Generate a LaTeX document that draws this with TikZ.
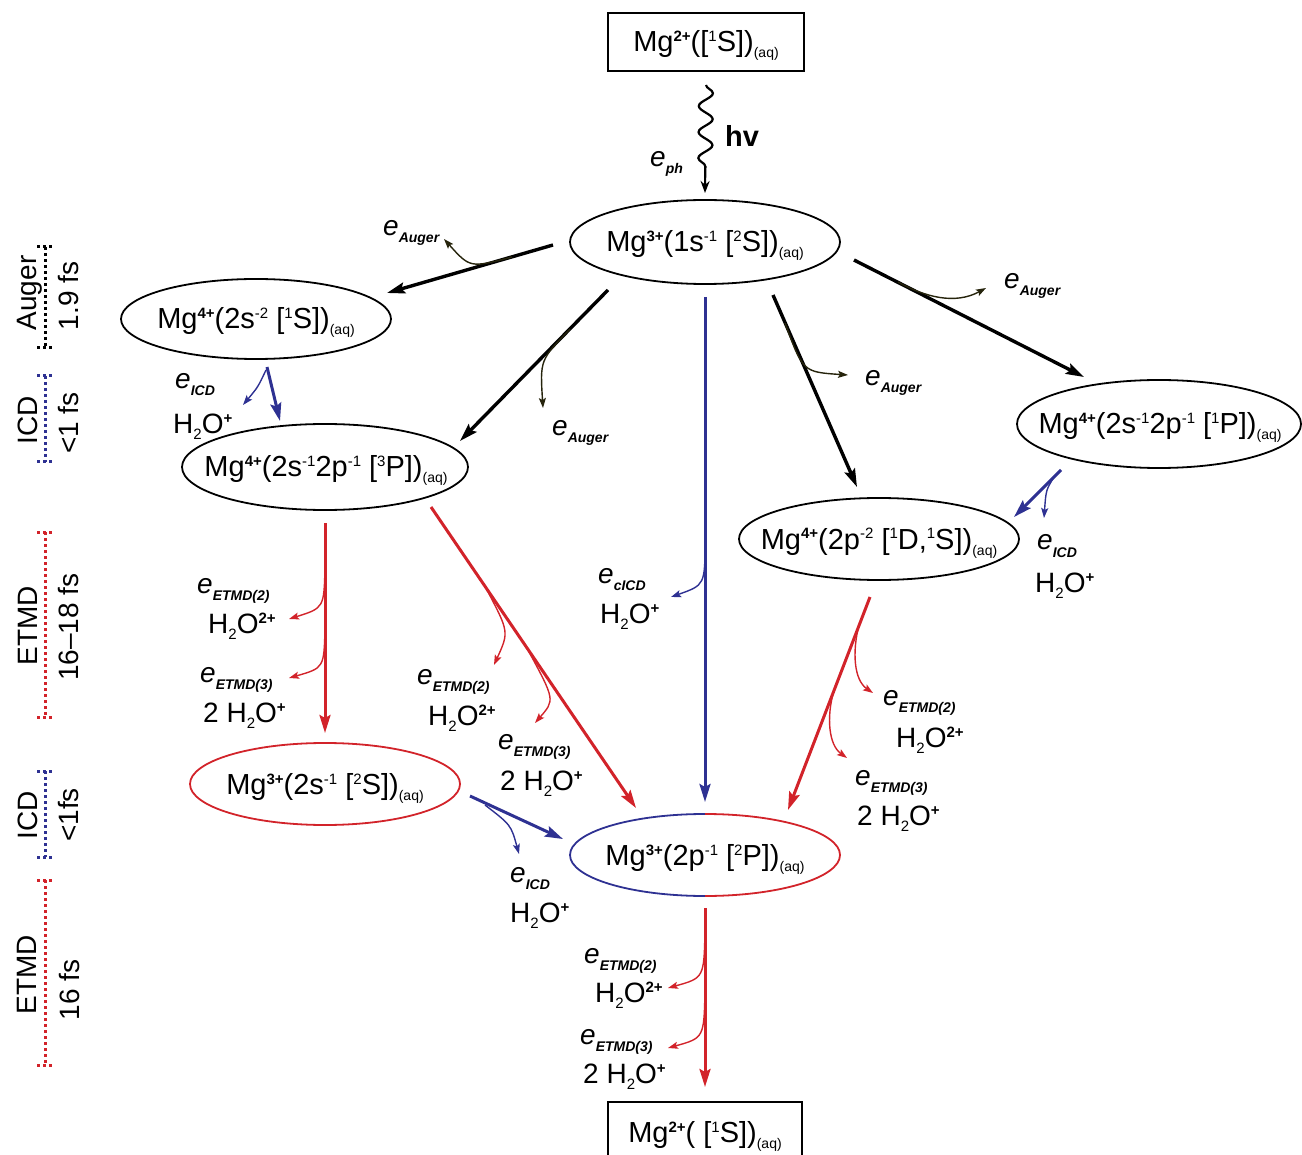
\documentclass[tikz,border=0pt]{standalone}
\usepackage{fontspec}
\setmainfont{Liberation Sans}
\usetikzlibrary{arrows.meta,shapes.geometric,decorations.pathmorphing}
\definecolor{myblue}{RGB}{46,49,146}
\definecolor{myred}{RGB}{210,35,42}
\definecolor{myolive}{RGB}{38,36,12}
\newcommand{\mychg}[1]{\raisebox{10pt}{\fontsize{15}{15}\selectfont\bfseries #1}}
\newcommand{\mysup}[1]{\raisebox{10pt}{\fontsize{15}{15}\selectfont #1}}
\newcommand{\myaq}{\raisebox{-6pt}{\fontsize{14}{14}\selectfont (aq)}}
\newcommand{\mye}[1]{{\itshape e}\raisebox{-7pt}{\fontsize{14}{14}\selectfont\bfseries\itshape #1}}
\newcommand{\myhtwo}{H\raisebox{-6pt}{\fontsize{15}{15}\selectfont 2}O}
\begin{document}
\begin{tikzpicture}[x=1pt,y=-1pt,
  state/.style={ellipse, draw, line width=1.8pt, inner sep=0pt, outer sep=0pt},
  stxt/.style={font=\fontsize{29}{32}\selectfont, inner sep=0pt, anchor=base},
  lbl/.style={font=\fontsize{28}{30}\selectfont, inner sep=0pt, anchor=base west},
  side/.style={font=\fontsize{28}{30}\selectfont, inner sep=0pt, anchor=base, rotate=90},
  bigarrow/.style={line width=3.4pt, -{Stealth[length=18pt,width=11pt,inset=3pt]}},
  thinarrow/.style={line width=1.4pt, -{Stealth[length=10pt,width=7pt,inset=2pt]}},
  bar/.style={line width=3pt, dash pattern=on 3pt off 3pt},
  boxnode/.style={draw, line width=2.4pt, inner sep=0pt, outer sep=0pt},
]
\useasboundingbox (0,0) rectangle (1302,1155);

% ---------- states ----------
\node[boxnode, minimum width=196pt, minimum height=58pt] (top) at (706,42) {};
\node[stxt] (topt) at (706,52) {Mg\mychg{2+}([\mysup{1}S])\myaq};

\node[state, minimum width=270pt, minimum height=84pt] (A) at (705,242) {};
\node[stxt] (At) at (705,252) {Mg\mychg{3+}(1s\mysup{-1} [\mysup{2}S])\myaq};

\node[state, minimum width=270pt, minimum height=80pt] (B) at (256,319) {};
\node[stxt] (Bt) at (256,329) {Mg\mychg{4+}(2s\mysup{-2} [\mysup{1}S])\myaq};

\node[state, minimum width=286pt, minimum height=86pt] (C) at (325,467) {};
\node[stxt] (Ct) at (326,477) {Mg\mychg{4+}(2s\mysup{-1}2p\mysup{-1} [\mysup{3}P])\myaq};

\node[state, minimum width=284pt, minimum height=88pt] (D) at (1159,424) {};
\node[stxt] (Dt) at (1160,434) {Mg\mychg{4+}(2s\mysup{-1}2p\mysup{-1} [\mysup{1}P])\myaq};

\node[state, minimum width=280pt, minimum height=82pt] (E) at (879,539) {};
\node[stxt] (Et) at (879,549) {Mg\mychg{4+}(2p\mysup{-2} [\mysup{1}D,\mysup{1}S])\myaq};

\node[state, draw=myred, minimum width=270pt, minimum height=82pt] (F) at (325,784) {};
\node[stxt] (Ft) at (325,794) {Mg\mychg{3+}(2s\mysup{-1} [\mysup{2}S])\myaq};

\node[ellipse, inner sep=0pt, outer sep=0pt, minimum width=270pt, minimum height=82pt] (G) at (705,855) {};
\draw[myblue, line width=1.8pt] (G.north) arc[start angle=90, end angle=270, x radius=135pt, y radius=41pt];
\draw[myred, line width=1.8pt] (G.south) arc[start angle=270, end angle=450, x radius=135pt, y radius=41pt];
\node[stxt] (Gt) at (705,865) {Mg\mychg{3+}(2p\mysup{-1} [\mysup{2}P])\myaq};

\node[boxnode, minimum width=194pt, minimum height=60pt] (bot) at (705,1132) {};
\node[stxt] (bott) at (705,1142) {Mg\mychg{2+}( [\mysup{1}S])\myaq};

% ---------- photoionisation ----------
\draw[line width=2.2pt, decorate, decoration={snake, amplitude=7pt, segment length=26pt, post length=14pt},
  -{Stealth[length=12pt,width=9pt]}] ([yshift=-14pt]top.south) -- ([yshift=7pt]A.north);
\node[lbl, font=\fontsize{29}{30}\selectfont\bfseries] (lhv) at (725,147) {hv};
\node[lbl] (lph) at (650,167) {\mye{ph}};

% ---------- Auger channels ----------
\coordinate (ab1) at (553,245); \coordinate (ab2) at (387,293);
\draw[bigarrow] (ab1) -- (ab2);
\coordinate (abx) at (512,257); \coordinate (abe) at (444,239);
\draw[thinarrow, myolive] (abx) .. controls (470,268) .. (abe);
\node[lbl] (lAugB) at (383,236) {\mye{Auger}};

\coordinate (ac1) at (608,290); \coordinate (ac2) at (460,441);
\draw[bigarrow] (ac1) -- (ac2);
\coordinate (acx) at (570,329); \coordinate (ace) at (543,408);
\draw[thinarrow, myolive] (acx) .. controls (540,360) .. (ace);
\node[lbl] (lAugC) at (552,436) {\mye{Auger}};

\coordinate (ae1) at (773,295); \coordinate (ae2) at (857,487);
\draw[bigarrow] (ae1) -- (ae2);
\coordinate (aex) at (785,323); \coordinate (aee) at (848,375);
\draw[thinarrow, myolive] (aex) .. controls (803,372) .. (aee);
\node[lbl] (lAugE) at (865,386) {\mye{Auger}};

\coordinate (ad1) at (854,260); \coordinate (ad2) at (1084,377);
\draw[bigarrow] (ad1) -- (ad2);
\coordinate (adx) at (898,282); \coordinate (ade) at (986,288);
\draw[thinarrow, myolive] (adx) .. controls (925,297) and (955,305) .. (ade);
\node[lbl] (lAugD) at (1004,289) {\mye{Auger}};

% ---------- ICD channels ----------
\coordinate (bc1) at (267,367); \coordinate (bc2) at (280,421);
\draw[bigarrow, myblue, line width=3pt] (bc1) -- (bc2);
\coordinate (bcx) at (266,370); \coordinate (bce) at (243,405);
\draw[thinarrow, myblue] (bcx) .. controls (258,387) .. (bce);
\node[lbl] (lICD1) at (175,389) {\mye{ICD}};
\node[lbl] (lH1) at (173,434) {\myhtwo\mychg{+}};

\coordinate (de1) at (1061,470); \coordinate (de2) at (1014,517);
\draw[bigarrow, myblue, line width=3pt] (de1) -- (de2);
\coordinate (dex) at (1054,477); \coordinate (dee) at (1044,518);
\draw[thinarrow, myblue] (dex) .. controls (1046,490) .. (dee);
\node[lbl] (lICD2) at (1037,550) {\mye{ICD}};
\node[lbl] (lH2) at (1035,592) {\myhtwo\mychg{+}};

\coordinate (ag1) at (705,297); \coordinate (ag2) at (705,802);
\draw[bigarrow, myblue, line width=3pt] (ag1) -- (ag2);
\coordinate (agx) at (705,540); \coordinate (age) at (671,597);
\draw[thinarrow, myblue] (agx) .. controls (705,585) .. (age);
\node[lbl] (lcICD) at (598,583) {\mye{cICD}};
\node[lbl] (lH3) at (600,623) {\myhtwo\mychg{+}};

\coordinate (fg1) at (470,796); \coordinate (fg2) at (563,839);
\draw[bigarrow, myblue, line width=3pt] (fg1) -- (fg2);
\coordinate (fgx) at (485,805); \coordinate (fge) at (519,854);
\draw[thinarrow, myblue] (fgx) .. controls (511,825) .. (fge);
\node[lbl] (lICD3) at (510,882) {\mye{ICD}};
\node[lbl] (lH4) at (510,922) {\myhtwo\mychg{+}};

% ---------- ETMD channels ----------
\coordinate (cf1) at (325,523); \coordinate (cf2) at (325,733);
\draw[bigarrow, myred, line width=3pt] (cf1) -- (cf2);
\coordinate (cfx1) at (325,567); \coordinate (cfe1) at (289,619);
\draw[thinarrow, myred] (cfx1) .. controls (324,608) .. (cfe1);
\coordinate (cfx2) at (325,628); \coordinate (cfe2) at (289,678);
\draw[thinarrow, myred] (cfx2) .. controls (324,668) .. (cfe2);
\node[lbl] (lcf1) at (197,593) {\mye{ETMD(2)}};
\node[lbl] (lcf2) at (208,633) {\myhtwo\mychg{2+}};
\node[lbl] (lcf3) at (200,682) {\mye{ETMD(3)}};
\node[lbl] (lcf4) at (203,722) {2 \myhtwo\mychg{+}};

\coordinate (cg1) at (431,507); \coordinate (cg2) at (636,808);
\draw[bigarrow, myred, line width=3pt] (cg1) -- (cg2);
\coordinate (cgx1) at (487,590); \coordinate (cge1) at (494,665);
\draw[thinarrow, myred] (cgx1) .. controls (509,632) .. (cge1);
\coordinate (cgx2) at (528,650); \coordinate (cge2) at (535,723);
\draw[thinarrow, myred] (cgx2) .. controls (555,700) .. (cge2);
\node[lbl] (lcg1) at (417,684) {\mye{ETMD(2)}};
\node[lbl] (lcg2) at (428,725) {\myhtwo\mychg{2+}};
\node[lbl] (lcg3) at (498,749) {\mye{ETMD(3)}};
\node[lbl] (lcg4) at (500,790) {2 \myhtwo\mychg{+}};

\coordinate (eg1) at (870,597); \coordinate (eg2) at (788,810);
\draw[bigarrow, myred, line width=3pt] (eg1) -- (eg2);
\coordinate (egx1) at (859,625); \coordinate (ege1) at (873,693);
\draw[thinarrow, myred] (egx1) .. controls (852,652) and (854,680) .. (ege1);
\coordinate (egx2) at (834,690); \coordinate (ege2) at (847,758);
\draw[thinarrow, myred] (egx2) .. controls (826,718) and (829,745) .. (ege2);
\node[lbl] (leg1) at (883,705) {\mye{ETMD(2)}};
\node[lbl] (leg2) at (896,747) {\myhtwo\mychg{2+}};
\node[lbl] (leg3) at (855,785) {\mye{ETMD(3)}};
\node[lbl] (leg4) at (857,825) {2 \myhtwo\mychg{+}};

\draw[bigarrow, myred, line width=3pt] ([yshift=-12pt]G.south) -- ([yshift=15pt]bot.north);
\coordinate (gbx1) at (705,930); \coordinate (gbe1) at (668,988);
\draw[thinarrow, myred] (gbx1) .. controls (704,978) .. (gbe1);
\coordinate (gbx2) at (705,990); \coordinate (gbe2) at (668,1048);
\draw[thinarrow, myred] (gbx2) .. controls (704,1038) .. (gbe2);
\node[lbl] (lgb1) at (584,963) {\mye{ETMD(2)}};
\node[lbl] (lgb2) at (595,1002) {\myhtwo\mychg{2+}};
\node[lbl] (lgb3) at (580,1044) {\mye{ETMD(3)}};
\node[lbl] (lgb4) at (583,1083) {2 \myhtwo\mychg{+}};

% ---------- time-scale bars ----------
\draw[bar] (37,247) -- (53,247); \draw[bar] (45,247) -- (45,348); \draw[bar] (37,348) -- (53,348);
\node[side] (sAug) at (36,293) {Auger};
\node[side] (sAugt) at (78,296) {1.9 fs};

\draw[bar, myblue] (37,376) -- (53,376); \draw[bar, myblue] (45,376) -- (45,462); \draw[bar, myblue] (37,462) -- (53,462);
\node[side] (sICD1) at (37,420) {ICD};
\node[side] (sICD1t) at (78,423) {<1 fs};

\draw[bar, myred] (37,532) -- (53,532); \draw[bar, myred] (45,532) -- (45,717); \draw[bar, myred] (37,717) -- (53,717);
\node[side] (sET1) at (37,626) {ETMD};
\node[side] (sET1t) at (78,627) {16–18 fs};

\draw[bar, myblue] (37,771) -- (53,771); \draw[bar, myblue] (45,771) -- (45,857); \draw[bar, myblue] (37,857) -- (53,857);
\node[side] (sICD2) at (37,815) {ICD};
\node[side] (sICD2t) at (78,815) {<1fs};

\draw[bar, myred] (37,880) -- (53,880); \draw[bar, myred] (45,880) -- (45,1065); \draw[bar, myred] (37,1065) -- (53,1065);
\node[side] (sET2) at (36,975) {ETMD};
\node[side] (sET2t) at (79,990) {16 fs};
\end{tikzpicture}
\end{document}
